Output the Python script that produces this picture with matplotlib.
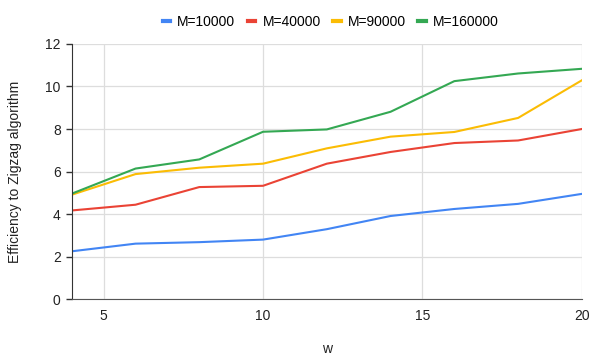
import matplotlib
matplotlib.use("Agg")
import matplotlib.pyplot as plt

plt.rcParams['font.family'] = ['Liberation Sans', 'DejaVu Sans']

w = [4, 6, 8, 10, 12, 14, 16, 18, 20]
m10000 = [2.25, 2.61, 2.68, 2.80, 3.29, 3.91, 4.24, 4.48, 4.95]
m40000 = [4.17, 4.44, 5.27, 5.33, 6.37, 6.92, 7.34, 7.46, 8.00]
m90000 = [4.91, 5.88, 6.18, 6.37, 7.09, 7.64, 7.86, 8.52, 10.29]
m160000 = [4.96, 6.14, 6.57, 7.87, 7.98, 8.81, 10.25, 10.61, 10.83]

series = [("M=10000", m10000, "#4285F4"),
          ("M=40000", m40000, "#EA4335"),
          ("M=90000", m90000, "#FBBC04"),
          ("M=160000", m160000, "#34A853")]

fig = plt.figure(figsize=(5.98, 3.6), dpi=100)
ax = fig.add_axes([0.120, 0.169, 0.853, 0.709])

for name, vals, col in series:
    ax.plot(w, vals, color=col, lw=1.5, label=name)

ax.set_xlim(4, 20)
ax.set_ylim(0, 12)
ax.set_xticks([5, 10, 15, 20])
ax.set_yticks(range(0, 13, 2))
ax.grid(True, color="#dddddd", lw=0.9)
ax.set_axisbelow(True)

for s in ["top", "right"]:
    ax.spines[s].set_visible(False)
ax.spines["left"].set_color("#333333")
ax.spines["bottom"].set_color("#555555")
ax.tick_params(axis="x", length=0, pad=7, labelsize=10, colors="#222222")
ax.tick_params(axis="y", length=4, width=1, color="#333333", pad=4, labelsize=10, labelcolor="#222222")

ax.set_xlabel("w", fontsize=10, labelpad=14, color="#222222")
ax.set_ylabel("Efficiency to Zigzag algorithm", fontsize=10, labelpad=17, color="#222222")

leg = fig.legend(loc="center", bbox_to_anchor=(0.553, 0.94), ncol=4, frameon=False,
                 fontsize=10, handlelength=0.55, handletextpad=0.5, columnspacing=0.9)
for line in leg.get_lines():
    line.set_linewidth(3)

fig.savefig("out.png", dpi=100)
